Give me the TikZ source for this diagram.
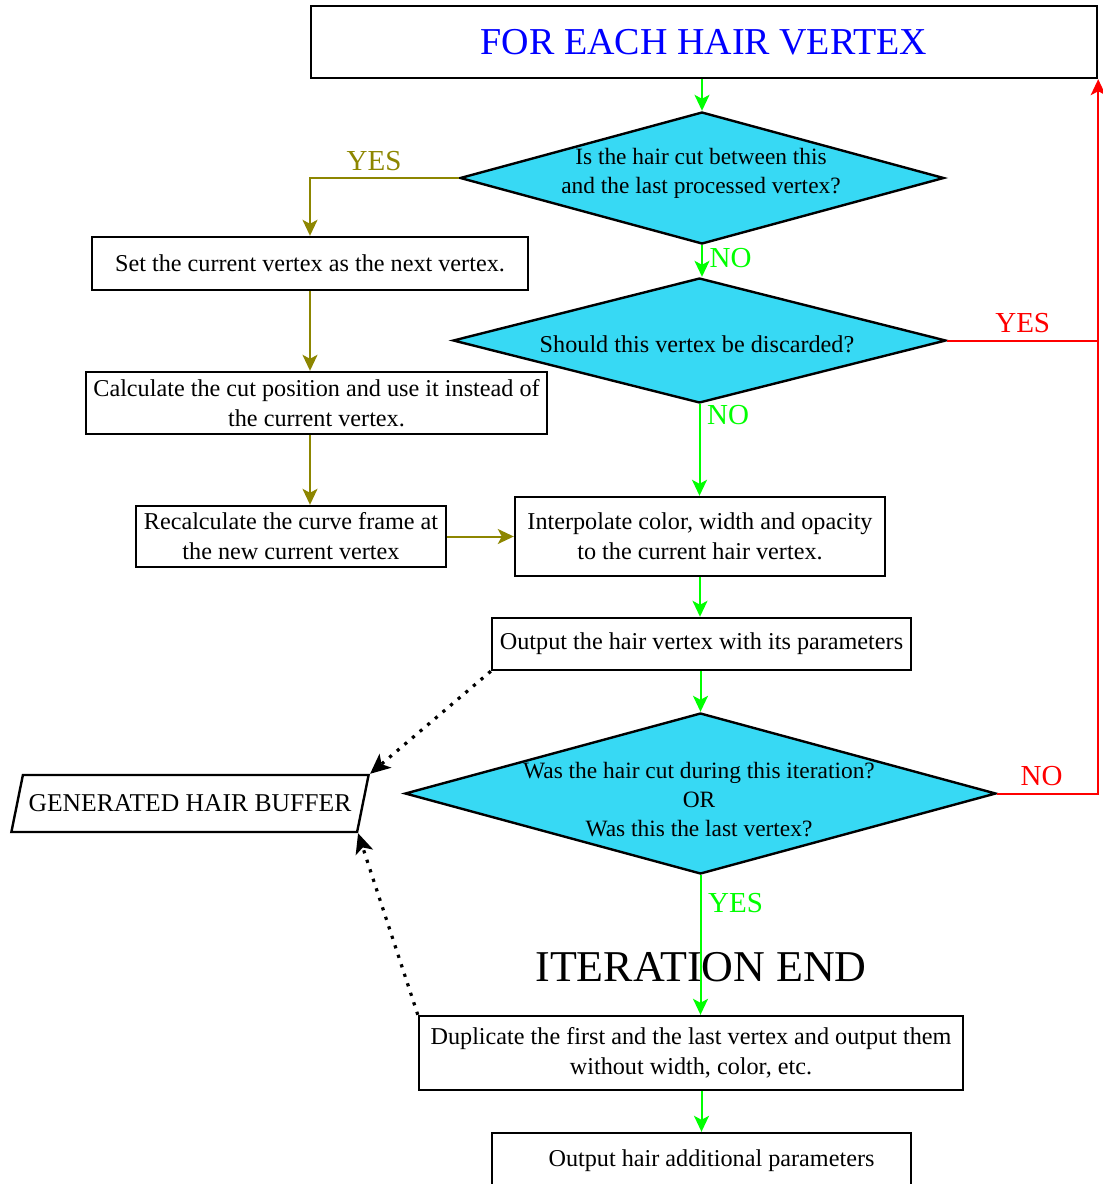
\documentclass[tikz,border=0pt]{standalone}
\usepackage{fontspec}
\setmainfont{Liberation Serif}
\usetikzlibrary{shapes.geometric,arrows.meta}
\definecolor{decisioncyan}{RGB}{55,217,244}
\tikzset{flowbox/.style={draw,line width=1.2pt,align=center,inner xsep=2pt}}
\tikzset{decision/.style={diamond,draw,line width=1.2pt,fill=decisioncyan,inner sep=0pt}}
\tikzset{flowarrow/.style={line width=1pt,-{Stealth[length=8pt,width=7.5pt,inset=2pt]}}}
\tikzset{bufferarrow/.style={line width=1.6pt,dash pattern=on 1.6pt off 3.4pt,-{Stealth[length=10pt,width=9pt,inset=2.5pt]}}}
\tikzset{answer/.style={font=\fontsize{14.5}{16}\selectfont}}

\begin{document}
\begin{tikzpicture}[x=1pt,y=-1pt,font=\fontsize{12.1}{15}\selectfont]
	\useasboundingbox (0,0) rectangle (551.5,592);

	\node[flowbox,minimum width=393pt,minimum height=36pt,text=blue,font=\fontsize{19}{22}\selectfont] (start) at (352,21) {\raisebox{-1.5pt}{FOR EACH HAIR VERTEX}};

	% the three questions
	\node[decision,minimum width=242pt,minimum height=66pt] (cut) at (351,89) {};
	\node[align=center,font=\fontsize{11.7}{14.5}\selectfont] (cuttxt) at (350.5,86.5) {Is the hair cut between this\\and the last processed vertex?};
	\node[decision,minimum width=246.5pt,minimum height=62.5pt] (discard) at (349.75,170.25) {};
	\node (discardtxt) at (348.5,172) {Should this vertex be discarded?};
	\node[decision,minimum width=295.5pt,minimum height=80.5pt] (loop) at (350.25,396.75) {};
	\node[align=center,font=\fontsize{11.7}{14.5}\selectfont] (looptxt) at (349.5,400) {Was the hair cut during this iteration?\\OR\\Was this the last vertex?};

	\node[flowbox,minimum width=218pt,minimum height=26.5pt] (setcur) at (155,131.75) {Set the current vertex as the next vertex.};
	\node[flowbox,minimum width=230.5pt,minimum height=31pt] (cutpos) at (158.25,201.5) {Calculate the cut position and use it instead of\\the current vertex.};
	\node[flowbox,minimum width=155pt,minimum height=30.5pt] (reframe) at (145.5,268.25) {Recalculate the curve frame at\\the new current vertex};
	\node[flowbox,minimum width=185pt,minimum height=39.5pt] (interp) at (350,268.25) {Interpolate color, width and opacity\\to the current hair vertex.};
	\node[flowbox,minimum width=209.5pt,minimum height=26pt] (outp) at (350.75,322) {\raisebox{-1pt}{Output the hair vertex with its parameters}};

	\node[trapezium,draw,line width=1.2pt,trapezium left angle=70,trapezium right angle=110,trapezium stretches=true,minimum width=179pt,minimum height=28.5pt,inner xsep=0pt,font=\fontsize{12.8}{15}\selectfont] (buffer) at (95,401.75) {\raisebox{-2pt}{GENERATED HAIR BUFFER}};

	\node[font=\fontsize{22}{25}\selectfont] (iterend) at (350.5,483.5) {ITERATION END};
	\node[flowbox,minimum width=272pt,minimum height=37pt] (dup) at (345.5,526.5) {Duplicate the first and the last vertex and output them\\without width, color, etc.};
	\node[flowbox,minimum width=209.5pt,minimum height=28pt] (extra) at (350.75,580.5) {\hspace*{10pt}Output hair additional parameters};

	% main flow
	\draw[flowarrow,green] (cut.north |- start.south) -- (cut.north);
	\draw[flowarrow,green] (cut.south) -- (cut.south |- discard.north) node[answer,right,pos=0.4] {NO};
	\draw[flowarrow,green] (discard.south) -- (discard.south |- interp.north) node[answer,right,pos=0.12] {NO};
	\draw[flowarrow,green] (interp.south) -- (interp.south |- outp.north);
	\draw[flowarrow,green] (loop.north |- outp.south) -- (loop.north);
	\draw[flowarrow,green] (loop.south) -- (loop.south |- dup.north) node[answer,right,pos=0.2] {YES};
	\draw[flowarrow,green] (extra.north |- dup.south) -- (extra.north);

	% cut branch
	\draw[flowarrow,olive] (cut.west) -| (setcur.north) node[answer,above,pos=0.285] {YES};
	\draw[flowarrow,olive] (setcur.south) -- (setcur.south |- cutpos.north);
	\draw[flowarrow,olive] (cutpos.south -| setcur.south) -- (setcur.south |- reframe.north);
	\draw[flowarrow,olive] (reframe.east) -- (reframe.east -| interp.west);

	% back to the top
	\draw[line width=1pt,red] (discard.east) -- (discard.east -| start.south east) node[answer,above,midway] {YES};
	\draw[flowarrow,red] (loop.east) -| (start.south east) node[answer,above,pos=0.22] {NO};

	% writes into the buffer
	\draw[bufferarrow] (outp.south west) -- (buffer.top right corner);
	\draw[bufferarrow] (dup.north west) -- (buffer.bottom right corner);
\end{tikzpicture}
\end{document}
